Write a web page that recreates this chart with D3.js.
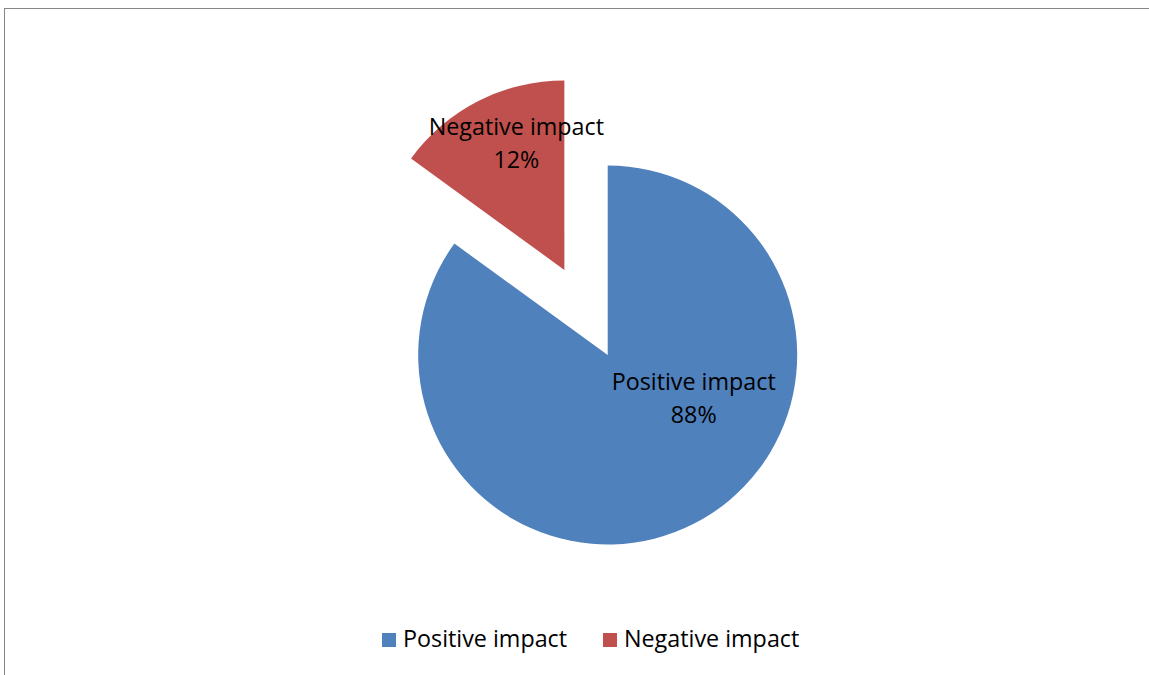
<!DOCTYPE html>
<html>
<head>
<meta charset="utf-8">
<script src="https://cdn.jsdelivr.net/npm/d3@7"></script>
<style>
  html, body { margin: 0; padding: 0; background: #fff; }
  svg { display: block; }
  text { font-family: "Open Sans", "Noto Sans", sans-serif; fill: #000; }
</style>
</head>
<body>
<svg id="chart" width="1149" height="675"></svg>
<script>
// Data
const categories = ["Positive impact", "Negative impact"];
const sliceValues = [85, 15];            // slice sizes as drawn
const percentLabels = ["88%", "12%"];    // percentages as printed on the chart
const explodedFlags = [false, true];
const colors = ["#4F81BD", "#C0504D"];

const svg = d3.select("#chart");
const W = 1149, H = 675;

// chart frame (right/bottom edges out of view)
svg.append("rect")
  .attr("x", 4.5).attr("y", 8.5)
  .attr("width", 1300).attr("height", 800)
  .attr("fill", "none").attr("stroke", "#868686").attr("stroke-width", 1);

const cx = 607.7, cy = 355, R = 189.5, explodeDist = 95.5;
const pie = d3.pie().sort(null).value(d => d.value).startAngle(0).endAngle(2 * Math.PI);
const arc = d3.arc().innerRadius(0).outerRadius(R);

const data = categories.map((c, i) => ({ name: c, value: sliceValues[i], pct: percentLabels[i], exploded: explodedFlags[i], color: colors[i] }));
const arcs = pie(data);

const g = svg.append("g").attr("transform", `translate(${cx},${cy})`);

function offset(d) {
  if (!d.data.exploded) return [0, 0];
  const mid = (d.startAngle + d.endAngle) / 2;
  return [Math.sin(mid) * explodeDist, -Math.cos(mid) * explodeDist];
}

const slices = g.selectAll("g.slice").data(arcs).enter().append("g")
  .attr("class", "slice")
  .attr("transform", d => { const o = offset(d); return `translate(${o[0]},${o[1]})`; });

slices.append("path")
  .attr("d", arc)
  .attr("fill", d => d.data.color);

// label anchor offsets (relative to slice center), matching the reference layout
const labelOffsets = [[86, 35], [-48, -135]];
const fs = 23.3;
slices.each(function(d, i) {
  const t = d3.select(this).append("text")
    .attr("text-anchor", "middle")
    .attr("font-size", fs)
    .attr("transform", `translate(${labelOffsets[i][0]},${labelOffsets[i][1]})`);
  t.append("tspan").attr("x", 0).attr("y", 0).text(d.data.name);
  t.append("tspan").attr("x", 0).attr("y", 33).text(d.data.pct);
});

// legend
const legend = svg.append("g");
const legendX = [382, 603];
categories.forEach((c, i) => {
  legend.append("rect")
    .attr("x", legendX[i]).attr("y", 633)
    .attr("width", 14).attr("height", 14)
    .attr("fill", colors[i]);
  legend.append("text")
    .attr("x", legendX[i] + 21).attr("y", 647)
    .attr("font-size", fs)
    .text(c);
});
</script>
</body>
</html>
